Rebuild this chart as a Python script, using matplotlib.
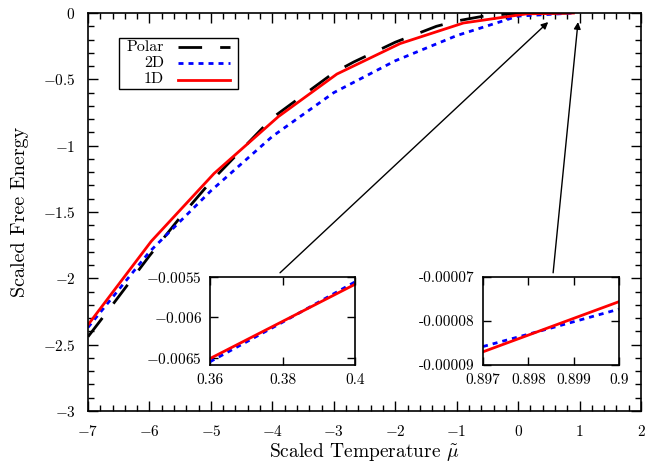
import matplotlib
matplotlib.use("Agg")
import matplotlib.pyplot as plt
from matplotlib.ticker import MultipleLocator, FixedLocator, FixedFormatter, FuncFormatter
from matplotlib.patches import Rectangle

plt.rcParams["font.family"] = "serif"
plt.rcParams["font.serif"] = ["cmr10", "DejaVu Serif"]
plt.rcParams["mathtext.fontset"] = "cm"
plt.rcParams["axes.formatter.use_mathtext"] = True

# main curves
mu_1d = [-7, -5.97, -4.95, -3.9, -2.95, -1.92, -0.89, 0.14, 0.9]
f_1d = [-2.35, -1.72, -1.21, -0.78, -0.46, -0.23, -0.075, -0.006, 0.0]

mu_2d = [-7, -6, -5, -4, -3, -2, -1, 0, 0.9]
f_2d = [-2.37, -1.80, -1.34, -0.93, -0.60, -0.36, -0.17, -0.023, 0.0]

mu_polar = [-7, -6.57, -6, -5.5, -5, -4, -3, -2.68, -2, -1.33, -1, -0.5, 0, 0.9]
f_polar = [-2.44, -2.18, -1.83, -1.54, -1.27, -0.79, -0.45, -0.37, -0.22,
           -0.10, -0.06, -0.018, -0.003, 0.0]

# zoom near 0.36-0.4
mu_z1 = [0.36, 0.38, 0.4]
f_z1_1d = [-0.00651, -0.00605, -0.00559]
f_z1_2d = [-0.00655, -0.00606, -0.00556]

# zoom near 0.897-0.9
mu_z2 = [0.897, 0.8985, 0.9]
f_z2_1d = [-0.0000870, -0.0000813, -0.0000756]
f_z2_2d = [-0.0000858, -0.0000816, -0.0000773]

RED = "#ff0000"
BLUE = "#0000ff"
LW = 2.0
polar_dash = (8.5, 6.5)
dot_dash = (1.8, 1.8)

fig = plt.figure(figsize=(6.55, 4.66), dpi=100)
ax = fig.add_axes([0.1344, 0.118, 0.8442, 0.854])

ax.plot(mu_polar, f_polar, color="black", lw=LW, dashes=polar_dash)
ax.plot(mu_2d, f_2d, color=BLUE, lw=LW, dashes=dot_dash)
ax.plot(mu_1d, f_1d, color=RED, lw=LW)

ax.set_xlim(-7, 2)
ax.set_ylim(-3, 0)
ax.xaxis.set_major_locator(MultipleLocator(1))
ax.xaxis.set_minor_locator(MultipleLocator(0.2))
ax.yaxis.set_major_locator(MultipleLocator(0.5))
ax.yaxis.set_minor_locator(MultipleLocator(0.1))
fmt = FuncFormatter(lambda v, p: r"$%g$" % round(v, 3))
ax.xaxis.set_major_formatter(fmt)
ax.yaxis.set_major_formatter(fmt)
ax.tick_params(which="both", direction="in", top=True, right=True, width=1.0)
ax.tick_params(which="major", length=7, labelsize=11, pad=9)
ax.tick_params(which="minor", length=4)
for s in ax.spines.values():
    s.set_linewidth(1.2)
ax.set_xlabel(r"Scaled Temperature $\tilde{\mu}$", fontsize=14, labelpad=2)
ax.set_ylabel("Scaled Free Energy", fontsize=14.5, labelpad=10)

# legend, gnuplot style: labels right aligned, samples on the right
ax.add_patch(Rectangle((0.056, 0.809), 0.215, 0.128, transform=ax.transAxes,
                       fill=False, lw=1.0, ec="black", zorder=5))
leg_rows = [("Polar", "black", polar_dash), ("2D", BLUE, dot_dash), ("1D", RED, None)]
for i, (lab, col, dsh) in enumerate(leg_rows):
    yy = 0.915 - i * 0.041
    ax.text(0.137, yy, lab, transform=ax.transAxes, ha="right", va="center",
            fontsize=11.5, zorder=6)
    kw = dict(color=col, lw=LW, transform=ax.transAxes, zorder=6)
    if dsh is not None:
        kw["dashes"] = dsh
    ax.plot([0.163, 0.257], [yy, yy], **kw)

# arrows to the zoomed regions
arrow1 = ((-3.875, -1.958), (0.49, -0.068))
arrow2 = ((0.57, -1.958), (0.975, -0.068))
for (xa, ya), (xb, yb) in (arrow1, arrow2):
    ax.annotate("", xy=(xb, yb), xytext=(xa, ya),
                arrowprops=dict(arrowstyle="-|>", color="black", lw=1.0,
                                mutation_scale=10, shrinkA=0, shrinkB=0))

# insets
ins1 = fig.add_axes([0.3206, 0.2167, 0.2214, 0.1888])
ins1.plot(mu_z1, f_z1_2d, color=BLUE, lw=LW, dashes=dot_dash)
ins1.plot(mu_z1, f_z1_1d, color=RED, lw=LW)
ins1.set_xlim(0.36, 0.4)
ins1.set_ylim(-0.00659, -0.0055)
ins1.xaxis.set_major_locator(FixedLocator([0.36, 0.38, 0.4]))
ins1.xaxis.set_major_formatter(FixedFormatter(["0.36", "0.38", "0.4"]))
ins1.yaxis.set_major_locator(FixedLocator([-0.0065, -0.006, -0.0055]))
ins1.yaxis.set_major_formatter(FixedFormatter([r"$-0.0065$", r"$-0.006$", r"$-0.0055$"]))

ins2 = fig.add_axes([0.7374, 0.2167, 0.2076, 0.1888])
ins2.plot(mu_z2, f_z2_2d, color=BLUE, lw=LW, dashes=dot_dash)
ins2.plot(mu_z2, f_z2_1d, color=RED, lw=LW)
ins2.set_xlim(0.897, 0.9)
ins2.set_ylim(-0.00009, -0.00007)
ins2.xaxis.set_major_locator(FixedLocator([0.897, 0.898, 0.899, 0.9]))
ins2.xaxis.set_major_formatter(FixedFormatter(["0.897", "0.898", "0.899", "0.9"]))
ins2.yaxis.set_major_locator(FixedLocator([-0.00009, -0.00008, -0.00007]))
ins2.yaxis.set_major_formatter(FixedFormatter(["-0.00009", "-0.00008", "-0.00007"]))

for a in (ins1, ins2):
    a.tick_params(direction="in", top=True, right=True, length=6, width=1.0,
                  labelsize=11, pad=6)
    for s in a.spines.values():
        s.set_linewidth(1.2)

fig.savefig("out.png", dpi=100)
plt.close(fig)
